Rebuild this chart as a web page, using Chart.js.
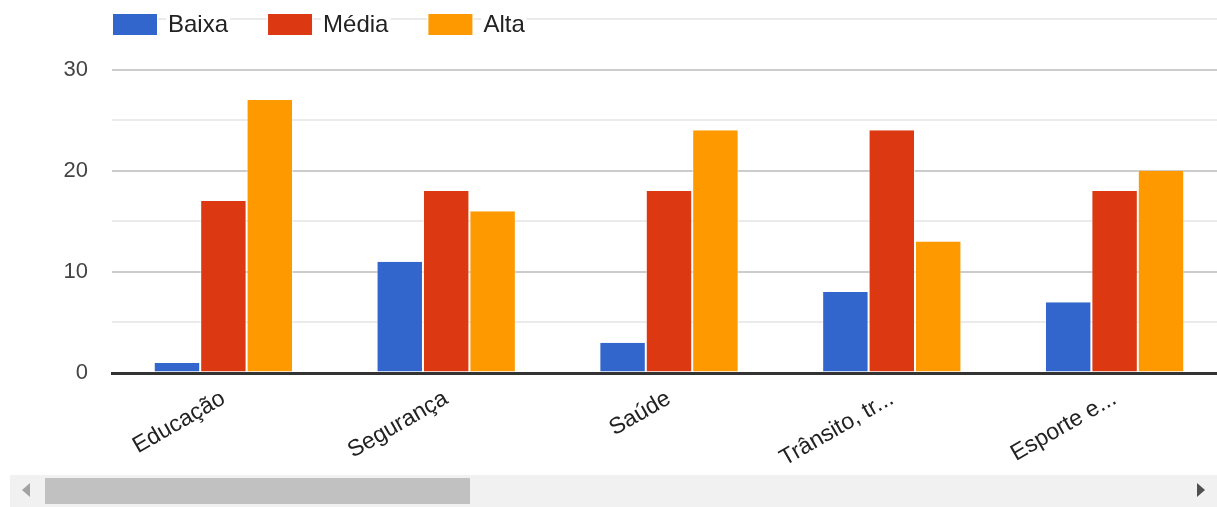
<!DOCTYPE html>
<html>
<head>
<meta charset="utf-8">
<script src="https://cdn.jsdelivr.net/npm/chart.js@4.4.1/dist/chart.umd.min.js"></script>
<style>
  html, body { margin: 0; padding: 0; background: #fff; overflow: hidden; }
  #wrap { position: relative; width: 1217px; height: 507px; overflow: hidden; }
  #chart { position: absolute; left: 0; top: 0; }
  .track { position: absolute; left: 10px; top: 475px; width: 1207px; height: 32px; background: #f1f1f1; }
  .thumb { position: absolute; left: 45px; top: 478px; width: 425px; height: 26px; background: #c1c1c1; }
  .arr-l { position: absolute; left: 22px; top: 483px; width: 0; height: 0;
           border-top: 7px solid transparent; border-bottom: 7px solid transparent; border-right: 8px solid #a3a3a3; }
  .arr-r { position: absolute; left: 1197px; top: 483px; width: 0; height: 0;
           border-top: 7px solid transparent; border-bottom: 7px solid transparent; border-left: 8px solid #505050; }
</style>
</head>
<body>
<div id="wrap">
  <canvas id="chart" width="1226" height="470"></canvas>
  <div class="track"></div>
  <div class="thumb"></div>
  <div class="arr-l"></div>
  <div class="arr-r"></div>
</div>
<script>
const categories = ['Educação', 'Segurança', 'Saúde', 'Trânsito, tr...', 'Esporte e...'];
const baixa = [1, 11, 3, 8, 7];
const media = [17, 18, 18, 24, 18];
const alta = [27, 16, 24, 13, 20];
const yTicks = [0, 10, 20, 30];

const FONT = '"Liberation Sans", Arial, sans-serif';

// legend drawn on top of the chart area, like the original
const topLegend = {
  id: 'topLegend',
  afterDraw(chart) {
    const ctx = chart.ctx;
    ctx.save();
    ctx.font = '24px ' + FONT;
    ctx.textBaseline = 'middle';
    let x = 113;
    const y = 24;
    chart.data.datasets.forEach(ds => {
      const w = ctx.measureText(ds.label).width;
      ctx.fillStyle = '#fff';
      ctx.fillRect(x - 1, y - 12, 46, 24);
      ctx.fillRect(x + 53, y - 14, w + 4, 28);
      ctx.fillStyle = ds.backgroundColor;
      ctx.fillRect(x, y - 10, 44, 21);
      ctx.fillStyle = '#222';
      ctx.fillText(ds.label, x + 55, y + 1);
      x += 55 + w + 40;
    });
    ctx.restore();
  }
};

new Chart(document.getElementById('chart'), {
  type: 'bar',
  data: {
    labels: categories,
    datasets: [
      { label: 'Baixa', data: baixa, backgroundColor: '#3366cc' },
      { label: 'Média', data: media, backgroundColor: '#dc3912' },
      { label: 'Alta', data: alta, backgroundColor: '#ff9900' },
    ],
  },
  options: {
    responsive: false,
    animation: false,
    layout: { padding: { top: 19, right: 0, left: 0, bottom: 0 } },
    datasets: {
      bar: {
        categoryPercentage: 0.625,
        barPercentage: 1,
        borderWidth: { left: 1, right: 1, top: 0, bottom: 0 },
        borderColor: 'rgba(255,255,255,0.55)',
      },
    },
    plugins: { legend: { display: false }, tooltip: { enabled: false } },
    scales: {
      x: {
        grid: { display: false },
        border: { color: '#333', width: 3 },
        ticks: {
          color: '#222',
          font: { family: FONT, size: 23 },
          minRotation: 30,
          maxRotation: 30,
          autoSkip: false,
          padding: 4,
        },
        afterFit(scale) { scale.height = 97; },
      },
      y: {
        min: 0,
        max: 35,
        border: { display: false },
        grid: {
          color: c => c.tick.value === 0 ? '#333' : (yTicks.includes(c.tick.value) ? '#cccccc' : '#ebebeb'),
          lineWidth: c => c.tick.value === 0 ? 3 : 2,
          drawTicks: false,
        },
        ticks: {
          stepSize: 5,
          color: '#444',
          padding: 24,
          font: { family: FONT, size: 22 },
          callback: v => yTicks.includes(v) ? String(v) : '',
        },
        afterFit(scale) {
          scale.width = 112;
          scale.paddingTop = 0;
          scale.paddingBottom = 0;
        },
      },
    },
  },
  plugins: [topLegend],
});
</script>
</body>
</html>
